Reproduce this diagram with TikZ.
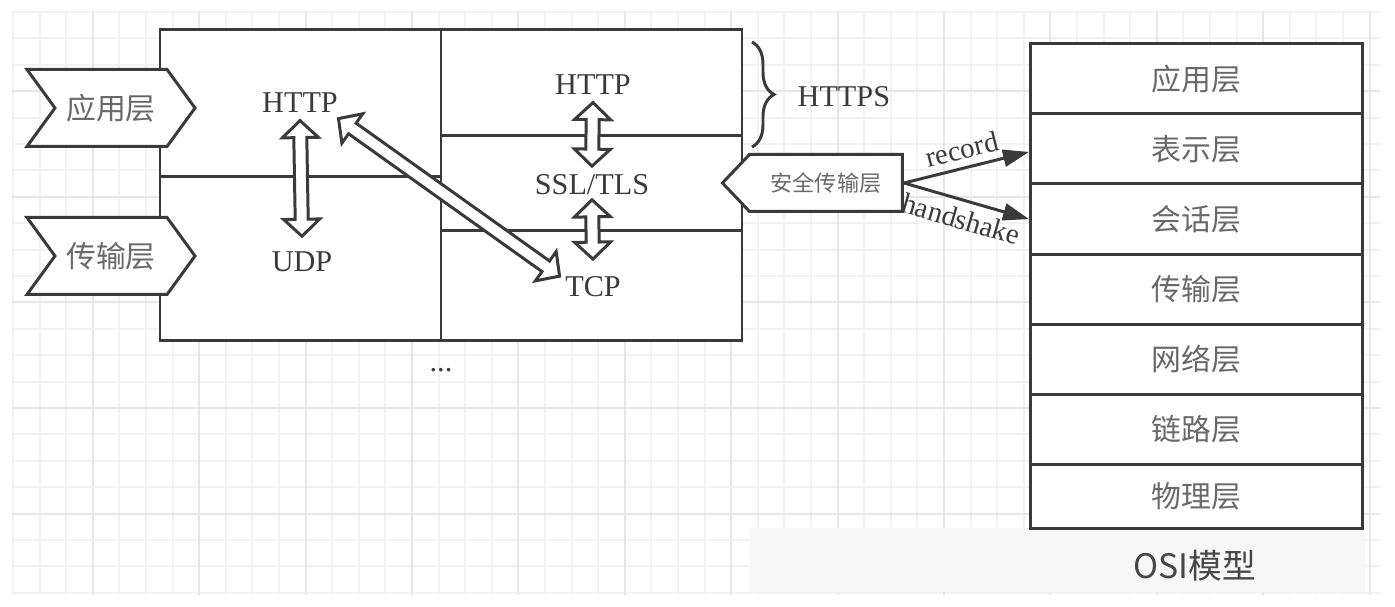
\documentclass[tikz,border=0pt]{standalone}
\usepackage{fontspec}
\setmainfont{Liberation Serif}
\newfontfamily\cjk{Noto Sans CJK SC}
\usetikzlibrary{calc,positioning,arrows.meta,shapes.symbols,decorations.pathreplacing}
\definecolor{ink}{RGB}{58,58,58}
\definecolor{labelgray}{RGB}{105,105,105}
\definecolor{gridminor}{RGB}{242,242,242}
\definecolor{gridmajor}{RGB}{231,231,231}
\tikzset{%
  frame/.style={draw=ink, line width=0.85pt},
  proto/.style={font=\fontsize{8.6}{10}\selectfont, text=ink, inner sep=0pt},
  layer/.style={font=\cjk\fontsize{8.5}{10}\selectfont, text=labelgray},
  tag/.style={signal, signal to=east, signal from=west, signal pointer angle=108,
    frame, fill=white, minimum width=16.8mm, minimum height=7.7mm, inner sep=0pt, layer},
  secure/.style={signal, signal to=west, signal from=nowhere, signal pointer angle=93,
    frame, fill=white, minimum width=18mm, minimum height=5.7mm, inner sep=0pt,
    font=\cjk\fontsize{6.3}{8}\selectfont, text=labelgray},
  osirow/.style={frame, fill=white, minimum width=33.2mm, minimum height=7.05mm, layer},
  flow/.style={draw=ink, line width=0.85pt, -{Triangle[length=2.6mm, width=1.7mm]}},
  flowlabel/.style={proto, font=\fontsize{8.2}{10}\selectfont, sloped},
  arrowline/.style={frame, fill=white, line join=miter}
}
% hollow double arrow between two points
\newcommand*{\headlen}{1.7mm}
\newcommand*{\headhalf}{1.8mm}
\newcommand*{\shafthalf}{0.65mm}
\newcommand*{\dblarrow}[2]{%
  \draw[arrowline] (#1)
    -- ($(#1)!\headlen!(#2)!\headhalf!90:(#2)$)
    -- ($(#1)!\headlen!(#2)!\shafthalf!90:(#2)$)
    -- ($(#2)!\headlen!(#1)!\shafthalf!-90:(#1)$)
    -- ($(#2)!\headlen!(#1)!\headhalf!-90:(#1)$)
    -- (#2)
    -- ($(#2)!\headlen!(#1)!\headhalf!90:(#1)$)
    -- ($(#2)!\headlen!(#1)!\shafthalf!90:(#1)$)
    -- ($(#1)!\headlen!(#2)!\shafthalf!-90:(#2)$)
    -- ($(#1)!\headlen!(#2)!\headhalf!-90:(#2)$)
    -- cycle;}
\begin{document}
\begin{tikzpicture}[x=0.1mm, y=-0.1mm]
\useasboundingbox[fill=white] (0,0) rectangle (1395,607);

% background grid
\foreach \k in {0,...,51}
  \draw[gridminor, line width=0.6pt] ({13+26.6*\k},12) -- ({13+26.6*\k},595);
\foreach \k in {0,...,22}
  \draw[gridminor, line width=0.6pt] (12,{12+26.4*\k}) -- (1380,{12+26.4*\k});
\foreach \k in {3,7,...,51}
  \draw[gridmajor, line width=0.6pt] ({13+26.6*\k},12) -- ({13+26.6*\k},595);
\foreach \k in {3,7,...,19}
  \draw[gridmajor, line width=0.6pt] (12,{12+26.4*\k}) -- (1380,{12+26.4*\k});
\fill[black!3] (750,528) rectangle (1365,592);

% protocol stack
\draw[frame, fill=white] (160,30) rectangle (742,341);
\draw[frame] (441,30) -- (441,341);
\draw[frame] (160,177) -- (441,177);
\draw[frame] (441,136) -- (742,136);
\draw[frame] (441,231) -- (742,231);

\node[proto] (httpl) at (300,103) {HTTP};
\node[proto] (udp) at (302,262) {UDP};
\node[proto] (httpr) at (593,85) {HTTP};
\node[proto] (ssl) at (592,185) {SSL/TLS};
\node[proto] (tcp) at (593,287) {TCP};
\node[proto] (more) at (441,370) {...};

\dblarrow{[yshift=-0.7mm]httpl.south}{[yshift=1.5mm]udp.north}
\dblarrow{[yshift=-0.7mm]httpr.south}{[yshift=0.8mm]ssl.north}
\dblarrow{[yshift=-0.4mm]ssl.south}{[yshift=1.7mm]tcp.north}
\dblarrow{[yshift=-0.5mm]httpl.south east}{[xshift=-0.5mm]tcp.north west}

% layer tags
\node[tag] (app) at (111,108) {应用层};
\node[tag] (trans) at (111,256) {传输层};
\node[secure] (sec) at (826,183) {安全传输层};

\draw[frame, decorate, decoration={brace, amplitude=2.2mm}] (752,42) -- (752,147);
\node[proto, anchor=west] (https) at (797,97) {HTTPS};

% OSI model
\foreach \name [count=\i] in {应用层,表示层,会话层,传输层,网络层,链路层}
  \node[osirow, anchor=north west] (osi\i) at (1029,{42+70.2*(\i-1)}) {\name};
\node[osirow, anchor=north west, minimum height=6.4mm] (osi7) at (1029,463) {物理层};
\node[font=\cjk\fontsize{9.6}{11}\selectfont, text={rgb,255:red,70;green,70;blue,70}]
  (osi) at (1195,566) {OSI模型};

\draw[flow] (sec.east) -- node[flowlabel, above, inner sep=2pt] (rec) {record} ([yshift=-0.3mm]osi2.west);
\draw[flow] (sec.east) -- node[flowlabel, below, inner sep=2pt] (hs) {handshake} (osi3.west);
\end{tikzpicture}
\end{document}
